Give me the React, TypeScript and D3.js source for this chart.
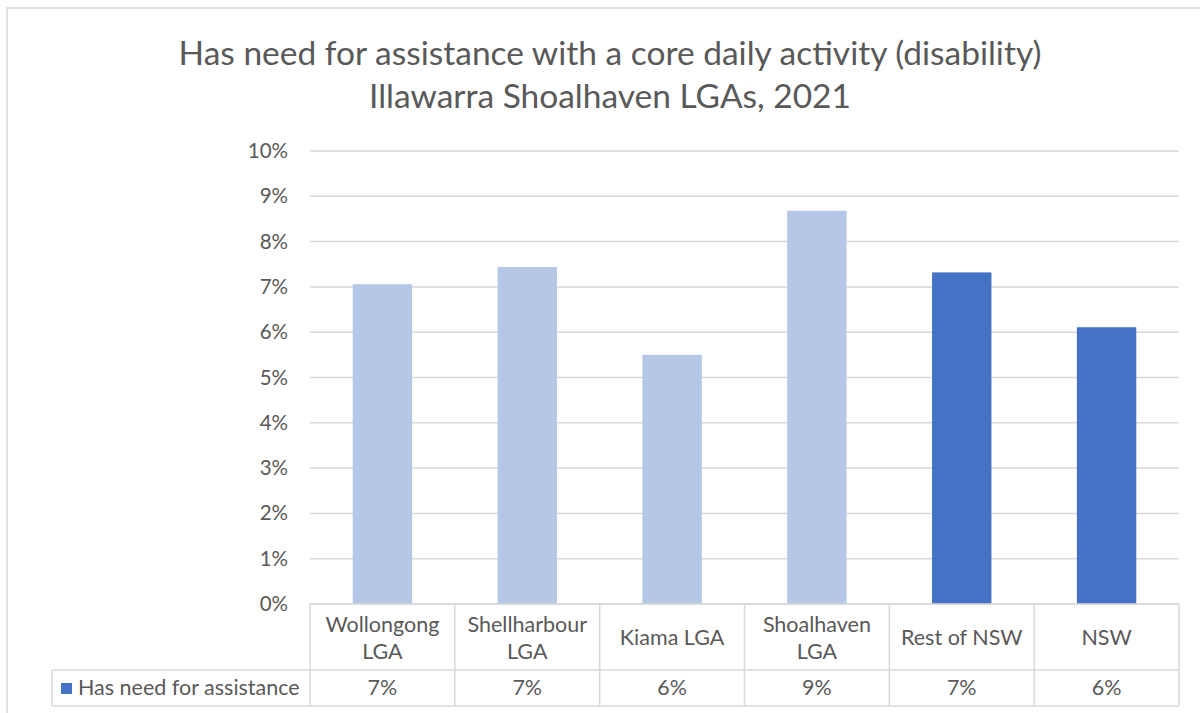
import React from "react";
import * as d3 from "d3";

const titleLines = [
  "Has need for assistance with a core daily activity (disability)",
  "Illawarra Shoalhaven LGAs, 2021",
];
const categories = [
  "Wollongong LGA",
  "Shellharbour LGA",
  "Kiama LGA",
  "Shoalhaven LGA",
  "Rest of NSW",
  "NSW",
];
const values = [0.0706, 0.0744, 0.055, 0.0868, 0.0732, 0.0611];
const valueLabels = ["7%", "7%", "6%", "9%", "7%", "6%"];
const groupType = ["region", "region", "region", "region", "state", "state"];
const seriesName = "Has need for assistance";
const yTicks = [0, 0.01, 0.02, 0.03, 0.04, 0.05, 0.06, 0.07, 0.08, 0.09, 0.1];

const FONT = "Lato, 'Open Sans', sans-serif";
const TEXT = "#595959";
const GRID = "#d9d9d9";
const LIGHT = "#b4c7e7";
const DARK = "#4472c4";

function splitLabel(s: string): string[] {
  if (s.length > 12) {
    const i = s.lastIndexOf(" ");
    return [s.slice(0, i), s.slice(i + 1)];
  }
  return [s];
}

export default function App() {
  const W = 1200;
  const H = 713;
  const left = 310;
  const right = 1179;
  const y0 = 604;
  const y1 = 151;
  const row1Bottom = 670;
  const row2Bottom = 706;
  const legendLeft = 52;

  const x = d3.scaleBand<string>().domain(categories).range([left, right]).padding(0);
  const y = d3.scaleLinear().domain([0, 0.1]).range([y0, y1]);
  const barW = x.bandwidth() * 0.41;
  const fmt = d3.format(".0%");

  return (
    <svg
      width={W}
      height={H}
      style={{ position: "absolute", left: 0, top: 0, background: "#fff" }}
      fontFamily={FONT}
    >
      <rect x={7} y={8} width={1210} height={720} fill="#fff" stroke={GRID} strokeWidth={1.5} />
      {titleLines.map((t, i) => (
        <text
          key={i}
          x={610}
          y={65 + i * 43}
          textAnchor="middle"
          fontSize={33.5}
          fill={TEXT}
        >
          {t}
        </text>
      ))}
      {yTicks.map((t) => (
        <g key={t}>
          <line x1={left} x2={right} y1={y(t)} y2={y(t)} stroke={GRID} strokeWidth={1.5} />
          <text x={288} y={y(t) + 7} textAnchor="end" fontSize={20.5} fill={TEXT}>
            {fmt(t)}
          </text>
        </g>
      ))}
      {categories.map((c, i) => (
        <rect
          key={c}
          x={(x(c) as number) + (x.bandwidth() - barW) / 2}
          y={y(values[i])}
          width={barW}
          height={y(0) - y(values[i])}
          fill={groupType[i] === "state" ? DARK : LIGHT}
        />
      ))}
      {/* table */}
      <g stroke={GRID} strokeWidth={1.5} fill="none">
        <line x1={left} x2={right} y1={y0} y2={y0} />
        <line x1={legendLeft} x2={right} y1={row1Bottom} y2={row1Bottom} />
        <line x1={legendLeft} x2={right} y1={row2Bottom} y2={row2Bottom} />
        <line x1={legendLeft} x2={legendLeft} y1={row1Bottom} y2={row2Bottom} />
        {categories.map((c) => (
          <line key={c} x1={x(c) as number} x2={x(c) as number} y1={y0} y2={row2Bottom} />
        ))}
        <line x1={right} x2={right} y1={y0} y2={row2Bottom} />
      </g>
      {categories.map((c, i) => {
        const lines = splitLabel(c);
        const cx = (x(c) as number) + x.bandwidth() / 2;
        const startY = lines.length === 1 ? 645 : 632;
        return (
          <g key={c}>
            {lines.map((l, j) => (
              <text key={j} x={cx} y={startY + j * 27} textAnchor="middle" fontSize={21.5} fill={TEXT}>
                {l}
              </text>
            ))}
            <text x={cx} y={695} textAnchor="middle" fontSize={21.5} fill={TEXT}>
              {valueLabels[i]}
            </text>
          </g>
        );
      })}
      <rect x={61} y={683} width={11} height={11} fill={DARK} />
      <text x={78} y={695} fontSize={21.5} fill={TEXT}>
        {seriesName}
      </text>
    </svg>
  );
}
